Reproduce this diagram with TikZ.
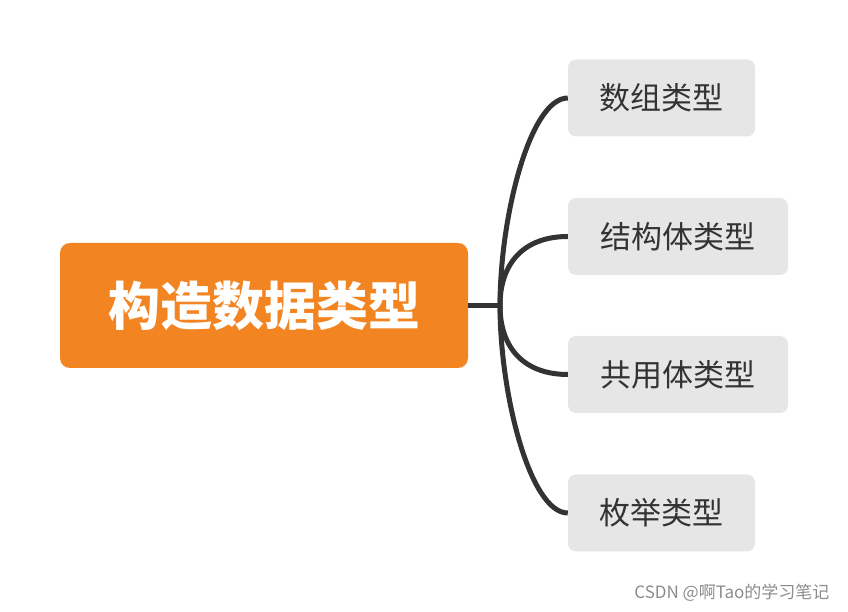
\documentclass[tikz,border=0pt]{standalone}
\usepackage{fontspec}
\newfontfamily\cjk{Noto Sans CJK SC}
\usepackage{tikz}
\usetikzlibrary{positioning}
\definecolor{RootOrange}{HTML}{F28522}
\definecolor{LeafGray}{HTML}{E6E6E6}
\definecolor{LineDark}{HTML}{333333}
\tikzstyle{root} = [rectangle, rounded corners=10pt, text centered, fill=RootOrange, text=white, minimum width=408pt, minimum height=125pt, font=\cjk\bfseries\fontsize{52}{60}\selectfont]
\tikzstyle{leaf} = [rectangle, rounded corners=8pt, text centered, fill=LeafGray, text=LineDark, minimum height=77pt, font=\cjk\fontsize{31}{38}\selectfont]
\tikzstyle{branch} = [line width=5pt, draw=LineDark]

\begin{document}
\begin{tikzpicture}[x=1pt, y=1pt]
  \useasboundingbox (0,0) rectangle (848,612);
  \node (constr) [root] at (264,306.5) {构造数据类型};
  \node (arr) [leaf, minimum width=187pt] at (661.5,514) {数组类型};
  \node (struct) [leaf, minimum width=220pt] at (678,375.5) {结构体类型};
  \node (union) [leaf, minimum width=220pt] at (678,237.5) {共用体类型};
  \node (enum) [leaf, minimum width=187pt] at (661.5,99) {枚举类型};
  \coordinate (hub) at (500,306.5);
  \node (mark) [font=\cjk\fontsize{17}{20}\selectfont, text=black!45, anchor=east] at (833,19) {CSDN @啊Tao的学习笔记};

  \draw [branch] (constr.east) -- (hub);
  \draw [branch] (hub) .. controls (500,395) and (530,514) .. (arr.west);
  \draw [branch] (hub) .. controls (500,350) and (525,375.5) .. (struct.west);
  \draw [branch] (hub) .. controls (500,263) and (525,237.5) .. (union.west);
  \draw [branch] (hub) .. controls (500,218) and (530,99) .. (enum.west);

\end{tikzpicture}
\end{document}
